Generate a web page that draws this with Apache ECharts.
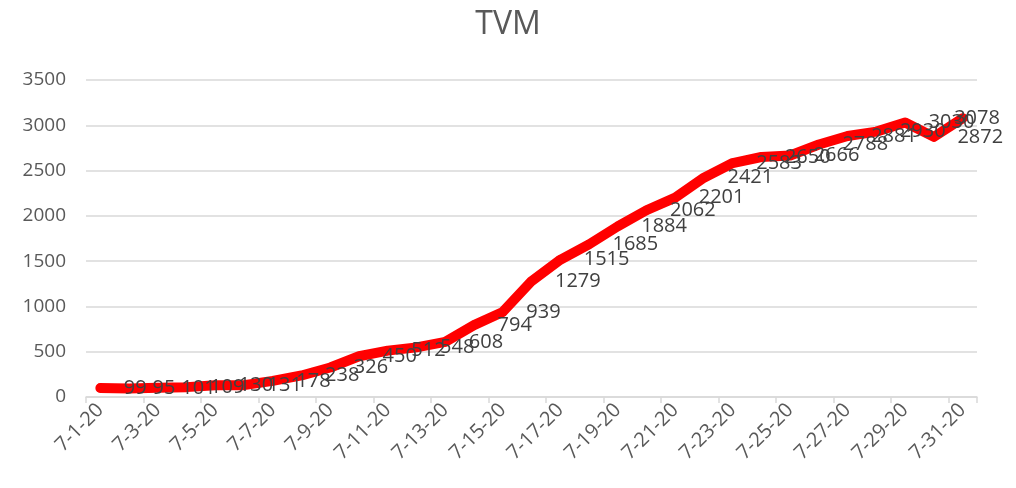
<!DOCTYPE html>
<html>
<head>
<meta charset="utf-8">
<script src="https://cdn.jsdelivr.net/npm/echarts@6/dist/echarts.min.js"></script>
<style>
  html, body { margin: 0; padding: 0; background: #fff; }
  #main { width: 1016px; height: 488px; }
</style>
</head>
<body>
<div id="main"></div>
<script>
// dates, one per day of July 2020
const dates = ['7-1-20', '7-2-20', '7-3-20', '7-4-20', '7-5-20', '7-6-20', '7-7-20', '7-8-20',
  '7-9-20', '7-10-20', '7-11-20', '7-12-20', '7-13-20', '7-14-20', '7-15-20', '7-16-20',
  '7-17-20', '7-18-20', '7-19-20', '7-20-20', '7-21-20', '7-22-20', '7-23-20', '7-24-20',
  '7-25-20', '7-26-20', '7-27-20', '7-28-20', '7-29-20', '7-30-20', '7-31-20']
// TVM values
const tvm = [99, 95, 101, 109, 130, 131, 178, 238, 326, 450, 512, 548, 608, 794, 939, 1279,
  1515, 1685, 1884, 2062, 2201, 2421, 2583, 2650, 2666, 2788, 2881, 2930, 3030, 2872, 3078]

const font = '"Open Sans", "Liberation Sans", sans-serif'

// last label is pulled back so it stays inside the chart, like the original
const seriesData = tvm.map((v, i) =>
  i === tvm.length - 1 ? { value: v, label: { distance: -13 } } : v)

const myChart = echarts.init(document.getElementById('main'))
let option

option = {
  animation: false,
  title: {
    text: 'TVM',
    left: 'center',
    top: 4,
    textStyle: { fontFamily: font, fontSize: 32, fontWeight: 'normal', color: '#595959' }
  },
  grid: { left: 86, right: 39, top: 80, bottom: 91 },
  xAxis: {
    type: 'category',
    data: dates,
    axisLine: { lineStyle: { color: '#d9d9d9', width: 1.5 } },
    axisTick: { show: true, length: 6, lineStyle: { color: '#d9d9d9', width: 1.5 } },
    axisLabel: {
      interval: 1,
      rotate: 45,
      margin: 10,
      fontFamily: font,
      fontSize: 20,
      color: '#595959'
    }
  },
  yAxis: {
    type: 'value',
    min: 0,
    max: 3500,
    interval: 500,
    axisLine: { show: false },
    axisTick: { show: false },
    splitLine: { lineStyle: { color: '#d9d9d9', width: 1.5 } },
    axisLabel: {
      margin: 20,
      fontFamily: font,
      fontSize: 19,
      color: '#595959',
      formatter: v => String(v)
    }
  },
  series: [
    {
      name: 'TVM',
      type: 'line',
      data: seriesData,
      symbol: 'circle',
      symbolSize: 9,
      showSymbol: true,
      itemStyle: { color: '#ff0000' },
      lineStyle: { color: '#ff0000', width: 10, cap: 'round', join: 'round' },
      label: {
        show: true,
        position: 'right',
        distance: 19,
        fontFamily: font,
        fontSize: 20,
        color: '#404040'
      }
    }
  ]
}

option && myChart.setOption(option)
</script>
</body>
</html>
